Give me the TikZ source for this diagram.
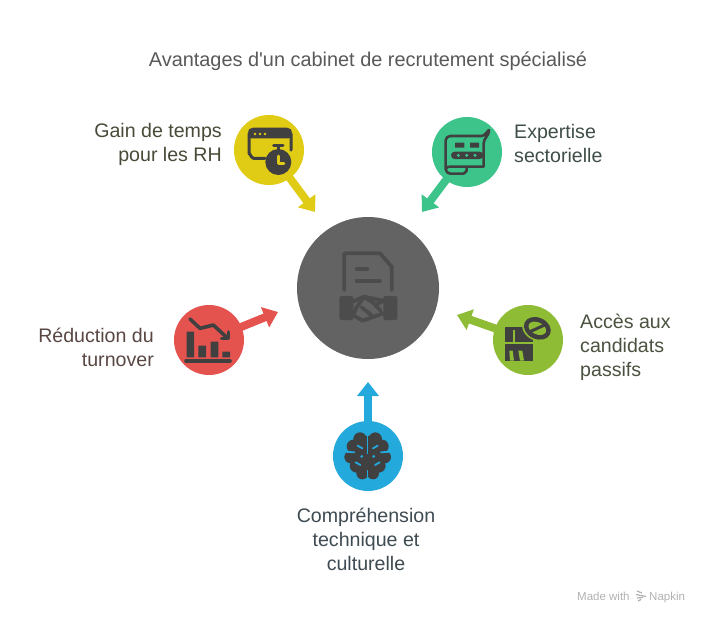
\documentclass[tikz,border=0pt]{standalone}
\usepackage{fontspec}
\newfontfamily\plainf{Liberation Sans}
\usetikzlibrary{arrows.meta}
\definecolor{cyellow}{HTML}{E0CB15}
\definecolor{cgreen}{HTML}{3DC48A}
\definecolor{cred}{HTML}{E5534F}
\definecolor{clime}{HTML}{8FBC35}
\definecolor{cblue}{HTML}{23A9DC}
\definecolor{ccentre}{HTML}{636363}
\definecolor{cicon}{HTML}{404040}
\definecolor{ccicon}{HTML}{4C4C4C}
\definecolor{ta}{HTML}{4A4A38}
\definecolor{tb}{HTML}{3F4F47}
\definecolor{tc}{HTML}{5A4744}
\definecolor{td}{HTML}{4A5240}
\definecolor{te}{HTML}{3F4B52}
\tikzset{
  hub/.style={circle,fill=#1,draw=none,minimum size=70pt,inner sep=0pt},
  ray/.style={draw=#1,line width=8pt,shorten <=-3pt,-{Triangle[width=21pt,length=14pt]}},
  lab/.style={inner sep=0pt,font=\plainf\fontsize{19.6}{24}\selectfont},
  ttl/.style={inner sep=0pt,font=\plainf\fontsize{19.9}{24}\selectfont,text=black!65},
  mark1/.style={inner sep=0pt,font=\plainf\fontsize{11.5}{14}\selectfont,text=black!30},
  ico/.style={line width=#1,draw=cicon,line cap=round,line join=round},
  ico/.default=3pt,
  zoomed/.style={shift={(#1)},scale=1/3}
}
\begin{document}
\begin{tikzpicture}[x=1pt,y=-1pt]
\useasboundingbox (0,0) rectangle (710,624);
\fill[white] (0,0) rectangle (710,624);
\node[ttl] (title) at (368,61) {Avantages d'un cabinet de recrutement spécialisé};
% tips
\coordinate (tipa) at (315,212);
\coordinate (tipb) at (422,212);
\coordinate (tipc) at (278,312);
\coordinate (tipd) at (457,315);
\coordinate (tipe) at (368,382);
% hubs
\node[hub=cyellow] (a) at (269,150) {};
\node[hub=cgreen] (b) at (467,152) {};
\node[hub=cred] (c) at (209,340) {};
\node[hub=clime] (d) at (528,340) {};
\node[hub=cblue] (e) at (368,456) {};
\node[hub=ccentre,minimum size=142pt] (hub0) at (368,288) {};
% connectors
\draw[ray=cyellow] (a) -- (tipa);
\draw[ray=cgreen] (b) -- (tipb);
\draw[ray=cred] (c) -- (tipc);
\draw[ray=clime] (d) -- (tipd);
\draw[ray=cblue] (e) -- (tipe);
% labels
\node[lab,align=right,anchor=east,text=ta] (la) at (222,144.5) {Gain de temps\\pour les RH};
\node[lab,align=left,anchor=west,text=tb] (lb) at (514,143.5) {Expertise\\sectorielle};
\node[lab,align=right,anchor=east,text=tc] (lc) at (154,347.5) {Réduction du\\turnover};
\node[lab,align=left,anchor=west,text=td] (ld) at (580,347.5) {Accès aux\\candidats\\passifs};
\node[lab,align=center,anchor=center,text=te] (le) at (366,539.5) {Compréhension\\technique et\\culturelle};
% watermark
\node[mark1,anchor=base west] (m1) at (577,600) {Made with};
\node[mark1,anchor=base west] (m2) at (649,600) {Napkin};
\draw[black!30,line width=1.2pt] (637,591) -- (642,593) (636,594.5) -- (646,596.5) (637,598) -- (643,597.5) (638,601) -- (641,599.5);
% icon: window + stopwatch
\begin{scope}[zoomed={225,105}]
\draw[ico] (120,160) -- (86,160) to[out=180,in=90] (72,146) -- (72,86) to[out=-90,in=180] (86,72) -- (184,72) to[out=0,in=-90] (198,86) -- (198,135);
\fill[cicon,rounded corners=3pt] (70,70) rectangle (200,100);
\fill[cyellow] (90,87) circle (4) (105,87) circle (4) (120,87) circle (4);
\fill[cicon] (160,171) circle (39);
\draw[ico] (146,122) -- (174,122) (160,122) -- (160,135);
\draw[draw=cyellow,line width=2.6pt,line cap=round,line join=round] (160,153) -- (160,175) -- (177,175);
\end{scope}
% icon: scroll
\begin{scope}[zoomed={415,105}]
\draw[ico=2.6pt] (92,192) -- (92,106) to[out=90,in=180] (106,93) -- (198,93) to[out=0,in=220] (222,75) to[out=-85,in=90] (206,115) -- (206,185) -- (155,185) -- (155,198) to[out=90,in=0] (146,206) -- (106,206) to[out=180,in=-90] (92,192) to[out=90,in=180] (106,185) -- (155,185);
\fill[cicon] (120,113) rectangle (148,128) (165,113) rectangle (192,128);
\fill[cicon,rounded corners=3.6pt] (108,140) rectangle (205,162);
\fill[cgreen] (130,151) circle (5) (155,151) circle (5) (180,151) circle (5);
\end{scope}
% icon: document + handshake
\begin{scope}[zoomed={290,210}]
\draw[ico=3.8pt,draw=ccicon] (163,240) -- (163,130) -- (270,130) -- (305,170) -- (305,240);
\draw[ico=3.8pt,draw=ccicon] (200,176) -- (232,176) (200,212) -- (270,212);
\fill[ccicon,rounded corners=2pt] (148,258) rectangle (190,330) (280,258) rectangle (322,330);
\draw[ico=3.8pt,draw=ccicon] (190,274) -- (222,260) -- (280,272) (190,316) -- (218,332) -- (280,310) (222,260) -- (198,295) -- (190,316) (222,260) -- (258,284) -- (280,272) (215,292) -- (245,316) (246,275) -- (272,302);
\end{scope}
% icon: chart
\begin{scope}[zoomed={165,300}]
\fill[cicon] (65,95) rectangle (87,172) (100,137) rectangle (123,172) (137,125) rectangle (160,172) (172,155) rectangle (195,172);
\draw[ico=3.6pt] (63,183) -- (195,183);
\draw[ico=3.6pt] (75,57) -- (105,85) -- (145,75) -- (185,112);
\draw[ico=3.6pt] (190,96) -- (190,116) -- (170,116);
\end{scope}
% icon: leaf card
\begin{scope}[zoomed={450,300}]
\fill[cicon] (165,80) rectangle (250,182);
\draw[clime,line width=2.3pt] (192,90) -- (192,130) (165,130) -- (250,130);
\fill[clime] (178,152) -- (188,152) -- (192,182) -- (180,182) -- cycle (205,152) -- (217,152) -- (222,182) -- (210,182) -- cycle;
\fill[clime,rotate around={-25:(262,85)}] (262,85) ellipse (47 and 37);
\fill[cicon,rotate around={-25:(262,85)}] (262,85) ellipse (42 and 32);
\fill[clime,rotate around={-25:(262,85)}] (262,85) ellipse (28 and 18);
\draw[cicon,line width=3pt] (238,96) -- (286,74);
\end{scope}
% icon: brain
\begin{scope}[zoomed={325,375}]
\fill[cicon] (105,192) circle (20) (151,192) circle (20) (85,214) circle (20) (171,214) circle (20)
  (77,246) circle (19) (179,246) circle (19) (95,272) circle (21) (161,272) circle (21)
  (112,295) circle (18) (144,295) circle (18) (128,240) ellipse (46 and 58);
\draw[cblue,line width=1.3pt] (128,172) -- (128,238) (128,285) -- (128,312);
\draw[cblue,line width=1.8pt,line cap=round] (98,212) -- (112,220) (158,212) -- (144,220) (60,230) -- (88,232) (196,230) -- (168,232) (92,262) -- (106,270) (164,262) -- (150,270);
\fill[cblue] (110,244) circle (4.5) (146,244) circle (4.5);
\end{scope}
\end{tikzpicture}
\end{document}
